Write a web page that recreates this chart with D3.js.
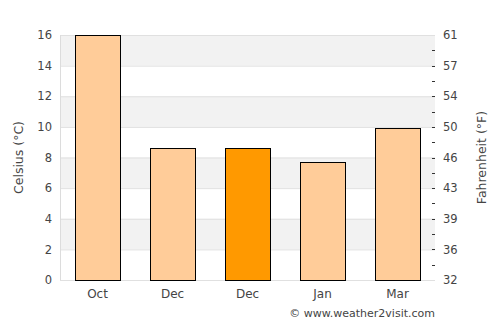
<!DOCTYPE html>
<html>
<head>
<meta charset="utf-8">
<script src="https://cdn.jsdelivr.net/npm/d3@7"></script>
<style>
  body { margin: 0; background: #fff; }
  text { font-family: "DejaVu Sans", sans-serif; fill: #444; }
</style>
</head>
<body>
<div id="chart"></div>
<script>
var months = ["Oct", "Dec", "Dec", "Jan", "Mar"];
var celsius = [16, 8.6, 8.6, 7.7, 9.9];
var highlight = [false, false, true, false, false];
var cTicks = [0, 2, 4, 6, 8, 10, 12, 14, 16];
var fLabels = ["32", "36", "39", "43", "46", "50", "54", "57", "61"];

var width = 500;
var height = 325;
var margin = { top: 35, right: 65, bottom: 45, left: 60 };

var svg = d3.select("#chart").append("svg")
  .attr("width", width)
  .attr("height", height);

var x = d3.scaleBand()
  .domain(d3.range(months.length))
  .range([margin.left, width - margin.right])
  .paddingInner(0.4)
  .paddingOuter(0.2);

var y = d3.scaleLinear()
  .domain([0, 16])
  .range([height - margin.bottom, margin.top]);

// alternating bands
var bands = d3.range(0, 16, 2).filter(function (v) { return (v / 2) % 2 == 1; });
svg.append("g")
  .selectAll("rect")
  .data(bands)
  .join("rect")
  .attr("x", margin.left)
  .attr("width", width - margin.right - margin.left)
  .attr("y", (d) => y(d + 2))
  .attr("height", (d) => y(d) - y(d + 2))
  .attr("fill", "#f2f2f2");

// grid lines
svg.append("g")
  .selectAll("line")
  .data(cTicks)
  .join("line")
  .attr("x1", margin.left)
  .attr("x2", width - margin.right)
  .attr("y1", (d) => y(d) + 0.5)
  .attr("y2", (d) => y(d) + 0.5)
  .attr("stroke", "#e0e0e0");

svg.append("line")
  .attr("x1", margin.left + 0.5)
  .attr("x2", margin.left + 0.5)
  .attr("y1", y(16))
  .attr("y2", y(0))
  .attr("stroke", "#dcdcdc");

// bars
svg.append("g")
  .selectAll("rect")
  .data(celsius)
  .join("rect")
  .attr("x", (d, i) => Math.round(x(i)) + 0.5)
  .attr("width", Math.round(x.bandwidth()))
  .attr("y", (d) => Math.round(y(d)) + 0.5)
  .attr("height", (d) => Math.round(y(0)) - Math.round(y(d)))
  .attr("fill", (d, i) => highlight[i] ? "#ff9900" : "#ffcc99")
  .attr("stroke", "#000")
  .attr("stroke-width", 1);

// left axis
var left = svg.append("g")
  .attr("transform", `translate(${margin.left - 8},0)`)
  .call(d3.axisLeft(y).tickValues(cTicks).tickSize(0).tickPadding(0));
left.select(".domain").remove();
left.selectAll("text").style("font-size", "11.5px").style("fill", "#444");

// right axis, fahrenheit
var right = svg.append("g")
  .attr("transform", `translate(${width - margin.right},0)`)
  .call(d3.axisRight(y).tickValues(cTicks).tickSize(0).tickPadding(8)
    .tickFormat((d, i) => fLabels[i]));
right.select(".domain").remove();
right.selectAll("text").style("font-size", "11.5px").style("fill", "#444");

svg.append("g")
  .selectAll("line")
  .data(d3.range(1, 16))
  .join("line")
  .attr("x1", width - margin.right - 3)
  .attr("x2", width - margin.right)
  .attr("y1", (d) => Math.round(y(d)) + 0.5)
  .attr("y2", (d) => Math.round(y(d)) + 0.5)
  .attr("stroke", "#333");

// x axis
var bottom = svg.append("g")
  .attr("transform", `translate(0,${height - margin.bottom})`)
  .call(d3.axisBottom(x).tickSize(0).tickPadding(9).tickFormat((i) => months[i]));
bottom.select(".domain").remove();
bottom.selectAll("text").style("font-size", "12px").style("fill", "#444");

svg.append("text")
  .attr("transform", `translate(23,${(y(0) + y(16)) / 2}) rotate(-90)`)
  .attr("text-anchor", "middle")
  .style("font-size", "12.5px")
  .text("Celsius (°C)");

svg.append("text")
  .attr("transform", `translate(486,${(y(0) + y(16)) / 2}) rotate(-90)`)
  .attr("text-anchor", "middle")
  .style("font-size", "12.5px")
  .text("Fahrenheit (°F)");

svg.append("text")
  .attr("x", width - margin.right)
  .attr("y", 317)
  .attr("text-anchor", "end")
  .style("font-size", "11px")
  .text("© www.weather2visit.com");
</script>
</body>
</html>
